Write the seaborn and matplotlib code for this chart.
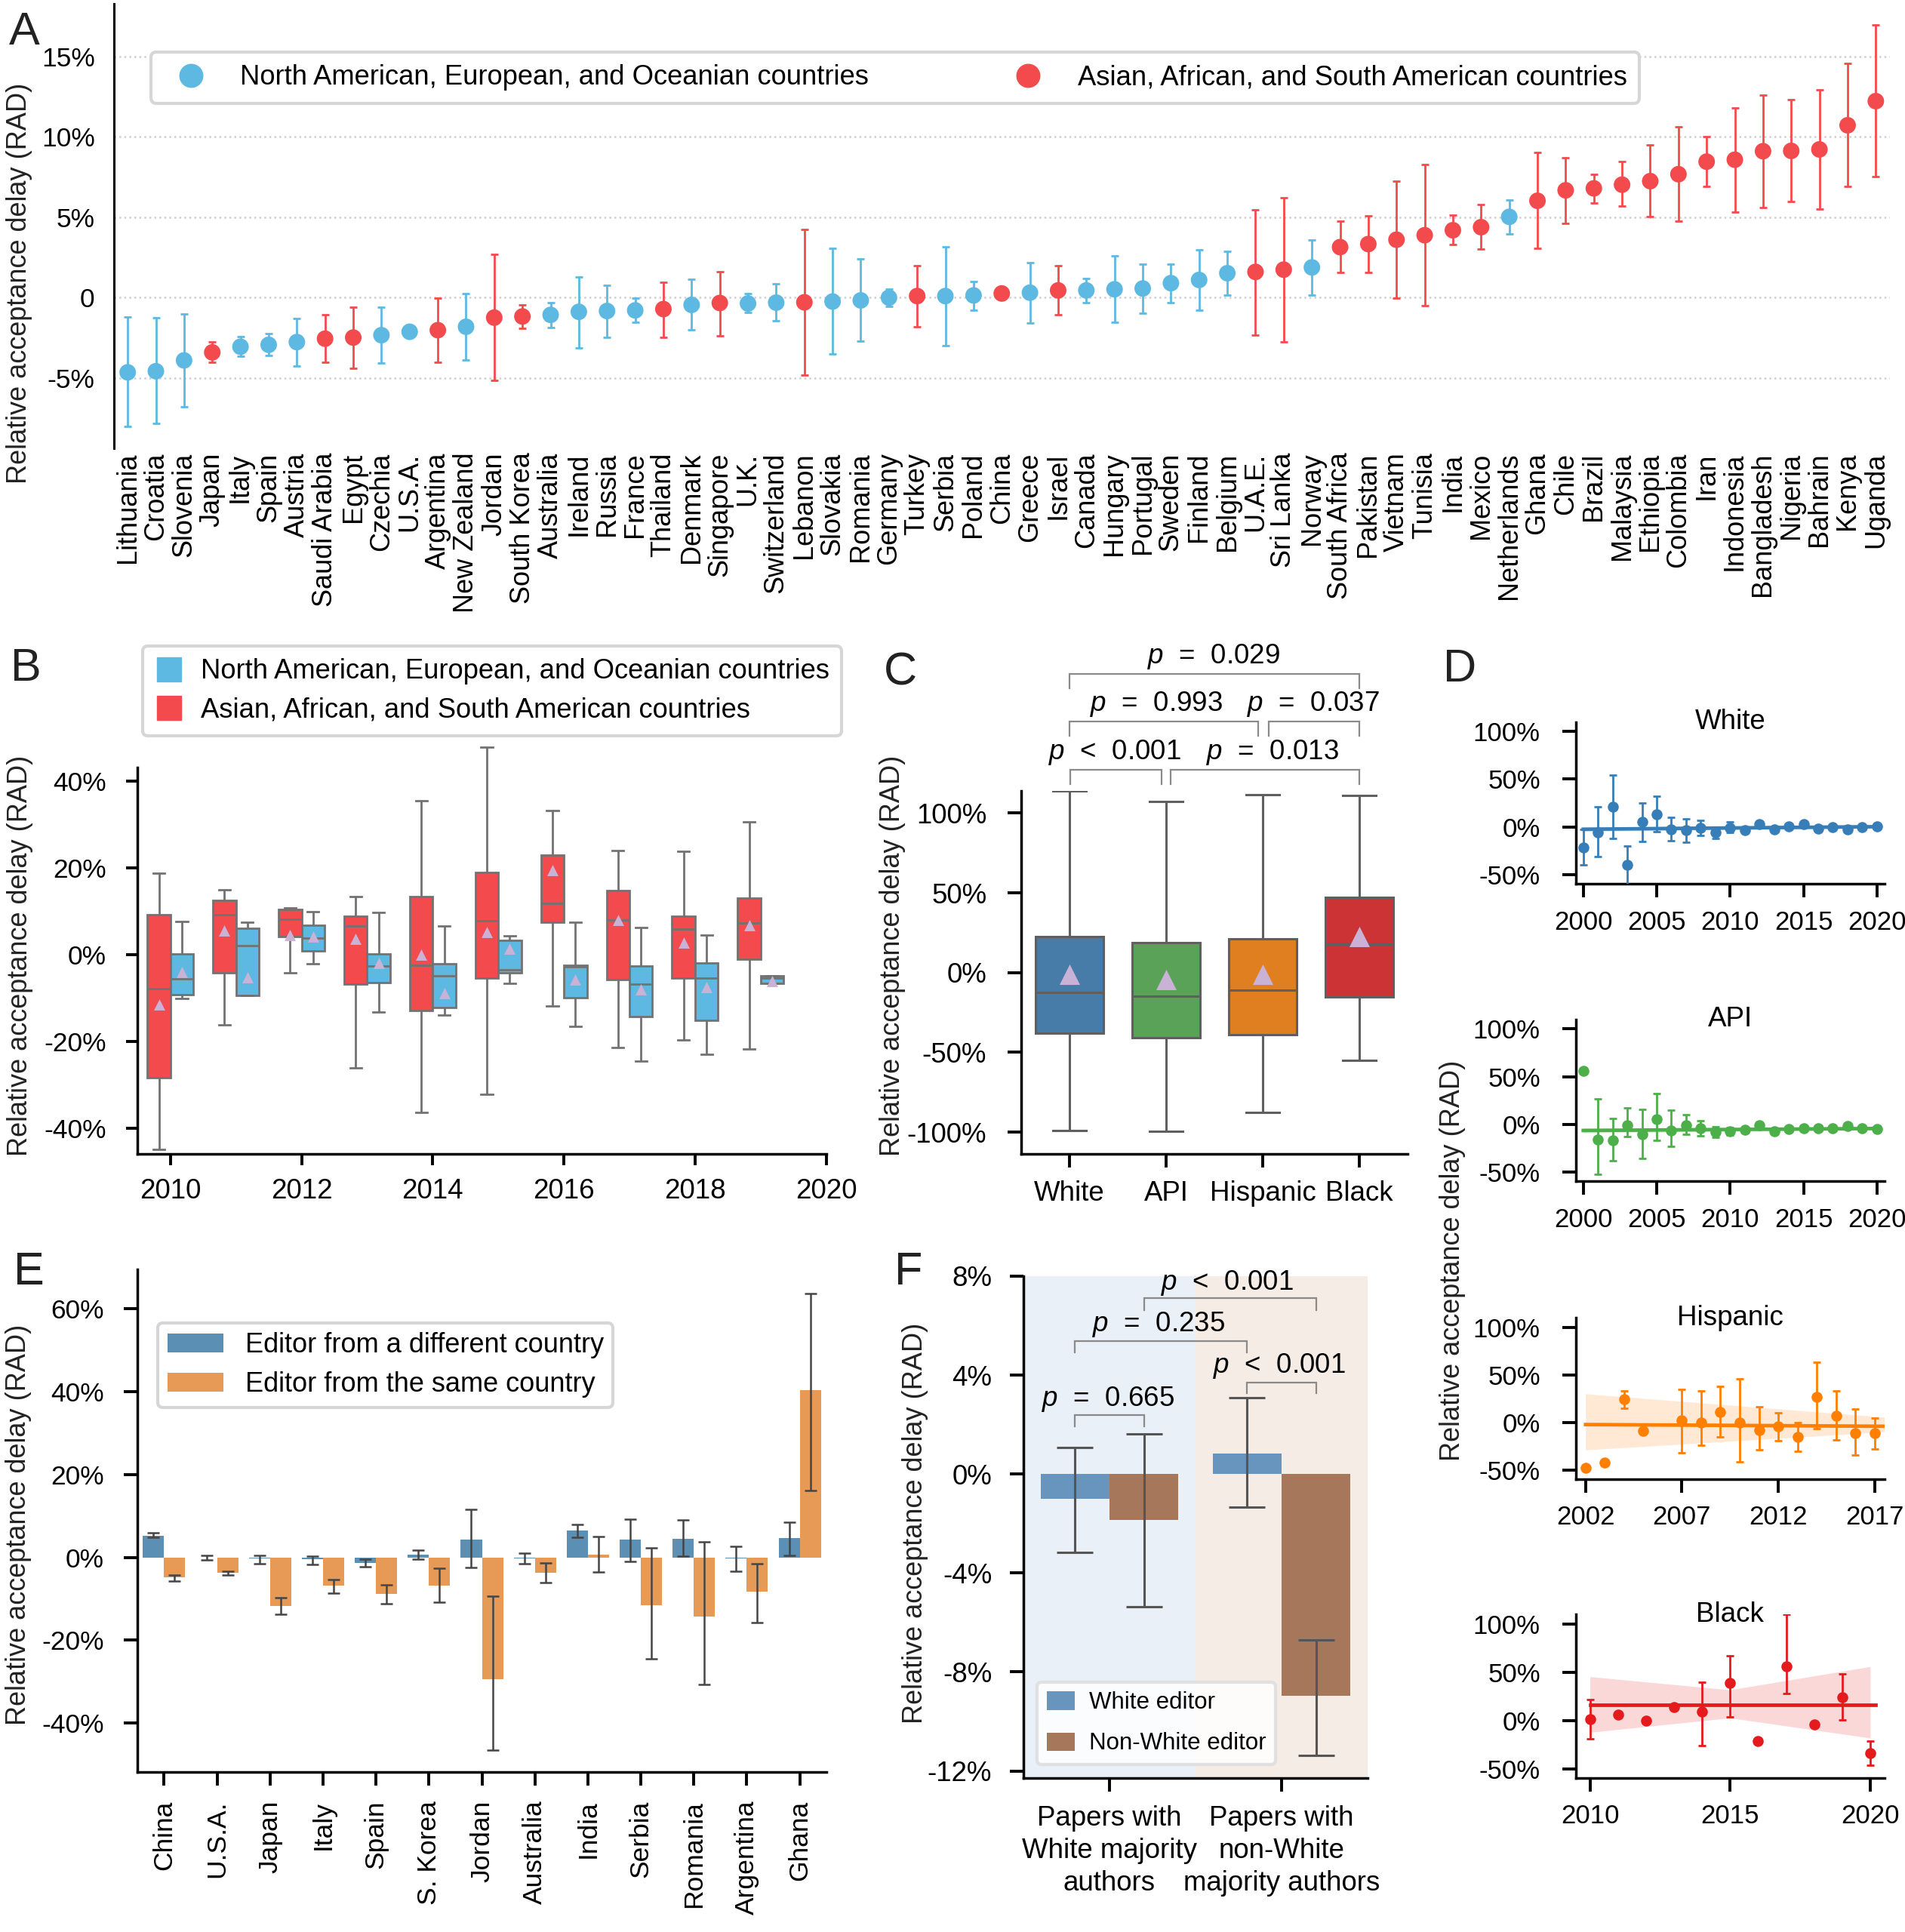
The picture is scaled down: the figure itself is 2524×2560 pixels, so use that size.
import numpy as np
import pandas as pd
import matplotlib
matplotlib.use("Agg")
import matplotlib.pyplot as plt
import seaborn as sns
from matplotlib.lines import Line2D
from matplotlib.patches import Patch

# ============================ DATA ============================
# ---- Panel A: country mean RAD (%) with 95% CI ----
a_countries = ["Lithuania", "Croatia", "Slovenia", "Japan", "Italy", "Spain", "Austria",
               "Saudi Arabia", "Egypt", "Czechia", "U.S.A.", "Argentina", "New Zealand",
               "Jordan", "South Korea", "Australia", "Ireland", "Russia", "France", "Thailand",
               "Denmark", "Singapore", "U.K.", "Switzerland", "Lebanon", "Slovakia", "Romania",
               "Germany", "Turkey", "Serbia", "Poland", "China", "Greece", "Israel", "Canada",
               "Hungary", "Portugal", "Sweden", "Finland", "Belgium", "U.A.E.", "Sri Lanka",
               "Norway", "South Africa", "Pakistan", "Vietnam", "Tunisia", "India", "Mexico",
               "Netherlands", "Ghana", "Chile", "Brazil", "Malaysia", "Ethiopia", "Colombia",
               "Iran", "Indonesia", "Bangladesh", "Nigeria", "Bahrain", "Kenya", "Uganda"]
# B = North American/European/Oceanian, R = Asian/African/South American
a_region = list("BBBRBBBRRB" "BRBRRBBBBR" "BRBBRBBBRB" "BRBRBBBBBB" "RRBRRRRRRB" "RRRRRRRRRRRRR")
a_mean = [-4.64, -4.57, -3.90, -3.40, -3.05, -2.93, -2.76, -2.55, -2.48, -2.33, -2.12, -2.02,
          -1.81, -1.24, -1.17, -1.07, -0.88, -0.83, -0.79, -0.71, -0.45, -0.33, -0.36, -0.31,
          -0.29, -0.24, -0.17, 0.00, 0.10, 0.10, 0.14, 0.26, 0.31, 0.45, 0.45, 0.52, 0.57,
          0.90, 1.10, 1.52, 1.60, 1.74, 1.88, 3.14, 3.33, 3.60, 3.88, 4.19, 4.38, 5.02, 6.02,
          6.67, 6.79, 7.02, 7.24, 7.67, 8.45, 8.57, 9.10, 9.12, 9.21, 10.71, 12.21]
a_low = [-8.00, -7.83, -6.76, -4.02, -3.64, -3.60, -4.24, -4.02, -4.40, -4.05, -2.20, -4.02,
         -3.86, -5.12, -1.90, -1.88, -3.10, -2.45, -1.55, -2.45, -1.98, -2.36, -0.93, -1.45,
         -4.81, -3.52, -2.69, -0.55, -1.81, -2.98, -0.76, 0.20, -1.57, -1.07, -0.31, -1.52,
         -0.95, -0.29, -0.76, 0.14, -2.31, -2.74, 0.17, 1.55, 1.55, -0.05, -0.52, 3.29, 3.00,
         3.98, 3.07, 4.60, 5.88, 5.67, 5.02, 4.74, 6.90, 5.33, 5.62, 5.98, 5.50, 6.90, 7.52]
a_high = [-1.19, -1.24, -1.00, -2.74, -2.43, -2.21, -1.31, -1.05, -0.57, -0.60, -2.04, -0.05,
          0.24, 2.67, -0.45, -0.29, 1.29, 0.76, -0.05, 0.95, 1.14, 1.62, 0.26, 0.86, 4.24,
          3.07, 2.43, 0.55, 1.98, 3.17, 1.02, 0.32, 2.19, 1.98, 1.21, 2.60, 2.07, 2.07, 2.98,
          2.90, 5.48, 6.21, 3.60, 4.74, 5.10, 7.26, 8.29, 5.12, 5.79, 6.07, 9.00, 8.71, 7.67,
          8.45, 9.48, 10.62, 10.02, 11.81, 12.57, 12.29, 12.90, 14.55, 16.93]
a_yticks = [-5, 0, 5, 10, 15]
a_yticklabels = ["-5%", "0", "5%", "10%", "15%"]

# ---- Panel B: yearly box statistics (%) ----
b_years = [2010, 2011, 2012, 2013, 2014, 2015, 2016, 2017, 2018, 2019]
b_s_lo = [-45.0, -16.3, -4.3, -26.1, -36.4, -32.3, -11.8, -21.4, -19.7, -21.8]
b_s_q1 = [-28.4, -4.3, 4.1, -6.9, -12.9, -5.4, 7.5, -5.8, -5.4, -1.1]
b_s_med = [-7.8, 9.1, 8.2, 6.5, -2.5, 7.8, 11.8, 7.9, 5.9, 7.3]
b_s_q3 = [9.2, 12.5, 10.4, 8.9, 13.3, 19.0, 22.9, 14.8, 8.9, 13.1]
b_s_hi = [18.8, 15.0, 10.8, 13.4, 35.5, 47.8, 33.2, 24.0, 23.8, 30.6]
b_s_mean = [-11.6, 5.5, 4.4, 3.6, 0.0, 5.2, 19.4, 8.0, 2.7, 6.8]
b_n_lo = [-10.1, -9.5, -2.1, -13.2, -14.0, -6.7, -16.5, -24.6, -23.1, -6.7]
b_n_q1 = [-9.2, -9.5, 0.8, -6.4, -12.3, -4.2, -10.0, -14.3, -15.1, -6.6]
b_n_med = [-5.6, 2.0, 3.8, -2.7, -5.0, -3.5, -2.9, -6.9, -5.4, -5.4]
b_n_q3 = [0.2, 6.0, 6.8, 0.2, -2.1, 3.3, -2.5, -2.6, -2.0, -4.9]
b_n_hi = [7.6, 7.5, 9.8, 9.7, 6.6, 4.3, 7.5, 6.2, 4.5, -4.9]
b_n_mean = [-4.1, -5.2, 4.1, -1.9, -8.9, 1.4, -5.8, -8.0, -7.6, -6.2]
b_yticks = [-40, -20, 0, 20, 40]
b_yticklabels = ["-40%", "-20%", "0%", "20%", "40%"]

# ---- Panel C: race of first author, box statistics (%) ----
c_groups = ["White", "API", "Hispanic", "Black"]
c_lo = [-98.8, -99.3, -87.9, -55.1]
c_q1 = [-38.2, -40.6, -38.9, -15.5]
c_med = [-12.3, -15.0, -11.1, 17.9]
c_q3 = [22.5, 18.6, 21.3, 47.3]
c_hi = [113.8, 107.2, 111.6, 110.9]
c_mean = [-1.0, -4.6, -1.0, 22.5]
c_yticks = [-100, -50, 0, 50, 100]
c_yticklabels = ["-100%", "-50%", "0%", "50%", "100%"]
c_pvalues = ["< 0.001", "= 0.013", "= 0.993", "= 0.037", "= 0.029"]

# ---- Panel D: yearly means per group (%) ----
d_white_years = list(range(2000, 2021))
d_white_mean = [-22, -5.8, 21.3, -39.6, 5.0, 12.9, -2.5, -3.75, -0.8, -5.8, -1.25, -3.3, 2.5,
                -2.5, 0.4, 2.5, -2.0, 0.0, -3.0, -0.4, 0.4]
d_white_low = [-39.6, -30.8, -12, -62, -15, -5.4, -14.2, -16, -9, -12, -6, -6, -0.5, -5, -2,
               0, -4.5, -2, -5.5, -2.5, -1.5]
d_white_high = [-2.9, 20.8, 54.6, -20, 25.4, 32.5, 9.6, 8.75, 7, -1.7, 5.4, -0.6, 5.5, 0, 2.8,
                5, 0.5, 2, -0.5, 1.7, 2.3]
d_white_fit = [-2.5, 0.2]
d_white_band_lo = [-4.8, -1.3]
d_white_band_hi = [-0.2, 1.7]

d_api_years = list(range(2000, 2021))
d_api_mean = [56.2, -16, -16.3, -0.4, -10, 5.9, -6.3, -0.4, -3.8, -8, -7.1, -5.9, -0.8, -7.1,
              -5, -3.8, -3.8, -3.8, -1.7, -3.8, -5]
d_api_low = [np.nan, -52, -37.7, -12.6, -35.6, -16.7, -22.6, -10, -11.7, -13.4, -11, -9, -3.5,
             -10, -7.5, -6, -6, -6, -4, -6, -7]
d_api_high = [np.nan, 26.8, 6.7, 17.2, 16, 32.7, 14.7, 10.5, 4.2, -2, -3, -3, 2, -4, -2.5,
              -1.5, -1.5, -1.5, 0.5, -1.5, -3]
d_api_fit = [-6.3, -4.2]
d_api_band_lo = [-9.0, -5.6]
d_api_band_hi = [-3.6, -2.8]

d_hisp_years = [2002, 2003, 2004, 2005, 2007, 2008, 2009, 2010, 2011, 2012, 2013, 2014, 2015,
                2016, 2017]
d_hisp_mean = [-48, -42, 24.2, -8.7, 1.8, -0.5, 10.5, 0, -7.8, -4.1, -15, 26.5, 6.8, -11.4, -11.4]
d_hisp_low = [np.nan, np.nan, 15, np.nan, -32, -24, -15.5, -41.5, -28.7, -19.2, -30, -6.4,
              -18.7, -34.7, -27.8]
d_hisp_high = [np.nan, np.nan, 33.3, np.nan, 34.7, 33, 37.9, 45.6, 16.4, 10, 0, 63, 33.3,
               13.7, 4.6]
d_hisp_fit = [-2.3, -4.1]
d_hisp_band_lo = [-29.0, -10.0]
d_hisp_band_hi = [30.0, 5.5]

d_black_years = list(range(2010, 2021))
d_black_mean = [1.4, 5.9, 0, 13.6, 9.1, 39, -21.4, 56.4, -4.1, 24, -33.6]
d_black_low = [-19, np.nan, np.nan, np.nan, -26.4, 3.6, np.nan, 28.2, np.nan, 0.5, -46.4]
d_black_high = [21.8, np.nan, np.nan, np.nan, 40, 67.3, np.nan, 110, np.nan, 48.2, -21.4]
d_black_fit = [15.9, 15.9]
d_black_band_lo = [-12.3, 2.7, -18.2]
d_black_band_hi = [45.5, 31.8, 56.0]
d_yticks = [-50, 0, 50, 100]
d_yticklabels = ["-50%", "0%", "50%", "100%"]

# ---- Panel E: editor country (%) ----
e_countries = ["China", "U.S.A.", "Japan", "Italy", "Spain", "S. Korea", "Jordan", "Australia",
               "India", "Serbia", "Romania", "Argentina", "Ghana"]
e_diff = [5.2, 0.0, -0.3, -0.5, -1.3, 0.6, 4.2, -0.2, 6.4, 4.2, 4.4, -0.3, 4.6]
e_diff_low = [4.8, -0.6, -1.5, -1.8, -2.3, -0.5, -2.5, -1.6, 4.8, -0.9, 0.2, -3.4, 0.5]
e_diff_high = [5.9, 0.5, 0.5, 0.2, -0.4, 1.8, 11.5, 1.0, 8.0, 9.2, 9.1, 2.6, 8.5]
e_same = [-4.9, -3.7, -11.7, -6.9, -8.9, -6.9, -29.3, -3.7, 0.6, -11.6, -14.2, -8.3, 40.3]
e_same_low = [-5.8, -4.3, -13.7, -8.6, -11.1, -10.8, -46.4, -6.0, -3.5, -24.4, -30.6, -15.7, 16.2]
e_same_high = [-4.2, -3.3, -9.7, -5.3, -6.6, -2.7, -9.3, -1.4, 5.1, 2.2, 3.8, -1.6, 63.7]
e_yticks = [-40, -20, 0, 20, 40, 60]
e_yticklabels = ["-40%", "-20%", "0%", "20%", "40%", "60%"]

# ---- Panel F: editor race x author majority (%) ----
f_groups = ["Papers with\nWhite majority\nauthors", "Papers with\nnon-White\nmajority authors"]
f_white_ed = [-1.0, 0.82]
f_white_ed_low = [-3.15, -1.32]
f_white_ed_high = [1.07, 3.10]
f_nonwhite_ed = [-1.86, -8.97]
f_nonwhite_ed_low = [-5.35, -11.37]
f_nonwhite_ed_high = [1.63, -6.70]
f_yticks = [-12, -8, -4, 0, 4, 8]
f_yticklabels = ["-12%", "-8%", "-4%", "0%", "4%", "8%"]
f_pvalues = ["= 0.665", "= 0.235", "< 0.001", "< 0.001"]

# ============================ STYLE ============================
plt.rcParams["font.family"] = ["Liberation Sans", "DejaVu Sans"]
plt.rcParams["mathtext.fontset"] = "custom"
plt.rcParams["mathtext.it"] = "Liberation Sans:italic"
plt.rcParams["mathtext.rm"] = "Liberation Sans"
plt.rcParams["axes.unicode_minus"] = False

BLUE = "#5EB9E2"
RED = "#F34B4D"
LAV = "#CAB2D6"
LAB_N = "North American, European, and Oceanian countries"
LAB_S = "Asian, African, and South American countries"
SET1 = ["#377eb8", "#4daf4a", "#ff7f00", "#e41a1c"]
YLAB = "Relative acceptance delay (RAD)"
FS = 25.5
FS2 = 26.4

W, H = 2524, 2560
fig = plt.figure(figsize=(W / 100, H / 100), dpi=100)


def rect(l, t, r, b):
    return [l / W, 1 - b / H, (r - l) / W, (b - t) / H]


def style(ax, xpad=10, ypad=20, length=13, width=2.8, spine=2.5, fs=FS):
    for s in ["top", "right"]:
        ax.spines[s].set_visible(False)
    for s in ["left", "bottom"]:
        ax.spines[s].set_linewidth(spine)
    ax.tick_params(axis="both", labelsize=fs, length=length, width=width)
    ax.tick_params(axis="x", pad=xpad)
    ax.tick_params(axis="y", pad=ypad)
    ax.set_xlabel("")
    ax.set_ylabel("")


def frame(leg, lw=3, ec="#D6D6D6"):
    fr = leg.get_frame()
    fr.set_edgecolor(ec)
    fr.set_linewidth(lw)


def ylab(xc, yc):
    fig.text(xc / W, 1 - yc / H, YLAB, rotation=90, ha="center", va="center",
             fontsize=26, color="#222222")


def letter(x, ybase, s):
    fig.text(x / W, 1 - ybase / H, s, fontsize=44, ha="left", va="baseline", color="#222222")


def ptext(ax, x, y, rel):
    ax.text(x, y, r"$p$  " + rel.replace(" ", "  "), ha="center", va="baseline",
            fontsize=26.5, clip_on=False)


def bracket(ax, x1, x2, y, leg):
    ax.plot([x1, x1, x2, x2], [leg, y, y, leg], color="#8a8a8a", lw=1.6, clip_on=False,
            solid_joinstyle="miter")

# ============================ PANEL A ============================
axA = fig.add_axes(rect(150.5, 5, 2504, 594))
xa = np.arange(len(a_countries))
am, al, ah = np.array(a_mean), np.array(a_low), np.array(a_high)
grp = np.array(a_region)
for g, col in [("B", BLUE), ("R", RED)]:
    m = grp == g
    axA.errorbar(xa[m], am[m], yerr=[am[m] - al[m], ah[m] - am[m]], fmt="none", ecolor=col,
                 elinewidth=2.0, capsize=3.6, capthick=2.0, zorder=2)
dfa = pd.DataFrame({"x": xa, "rad": am, "region": np.where(grp == "B", LAB_N, LAB_S)})
sns.scatterplot(data=dfa, x="x", y="rad", hue="region", palette={LAB_N: BLUE, LAB_S: RED},
                s=250, linewidth=0, legend=False, ax=axA, zorder=3)
axA.set_xlim(-0.5, len(a_countries) - 0.5)
axA.set_ylim(-9.36, 18.26)
axA.set_yticks(a_yticks)
axA.set_yticklabels(a_yticklabels)
axA.set_xticks(xa)
axA.set_xticklabels(a_countries, rotation=90)
style(axA, xpad=4, ypad=18, length=0)
axA.spines["bottom"].set_visible(False)
axA.spines["left"].set_linewidth(2.2)
axA.tick_params(axis="x", labelsize=26)
axA.yaxis.grid(True, linestyle=":", color="#cfcfcf", linewidth=1.8)
axA.set_axisbelow(True)
hA = [Line2D([], [], ls="none", marker="o", ms=22, mfc=BLUE, mec=BLUE),
      Line2D([], [], ls="none", marker="o", ms=22, mfc=RED, mec=RED)]
legA = axA.legend(hA, [LAB_N, LAB_S], ncol=2, loc="upper left",
                  bbox_to_anchor=((200 - 150.5) / 2353.5, (594 - 69) / 589),
                  fontsize=26.2, frameon=True, fancybox=True, borderpad=0.45,
                  handletextpad=0.8, columnspacing=4.8, borderaxespad=0, framealpha=1)
frame(legA)
ylab(26, 375)
letter(12, 59, "A")

# ============================ PANEL B ============================
axB = fig.add_axes(rect(182.3, 1017.2, 1094.7, 1529))
rows = []
for i, yr in enumerate(b_years):
    for v in (b_s_lo[i], b_s_q1[i], b_s_med[i], b_s_q3[i], b_s_hi[i]):
        rows.append((yr, LAB_S, v))
    for v in (b_n_lo[i], b_n_q1[i], b_n_med[i], b_n_q3[i], b_n_hi[i]):
        rows.append((yr, LAB_N, v))
dfb = pd.DataFrame(rows, columns=["year", "region", "rad"])
sns.boxplot(data=dfb, x="year", y="rad", hue="region", hue_order=[LAB_S, LAB_N],
            palette=[RED, BLUE], native_scale=True, width=0.7, whis=(0, 100), saturation=1,
            linecolor="#727272", linewidth=2.0, showfliers=False, legend=False, ax=axB)
by = np.array(b_years, dtype=float)
axB.scatter(by - 0.175, b_s_mean, marker="^", s=115, color=LAV, linewidths=0, zorder=5)
axB.scatter(by + 0.175, b_n_mean, marker="^", s=115, color=LAV, linewidths=0, zorder=5)
for art in list(axB.lines) + list(axB.patches):
    art.set_clip_on(False)
axB.set_xlim(2009.5, 2020)
axB.set_ylim(-46, 43.1)
axB.set_xticks(range(2010, 2021, 2))
axB.set_xticklabels([str(y) for y in range(2010, 2021, 2)])
axB.set_yticks(b_yticks)
axB.set_yticklabels(b_yticklabels)
style(axB, xpad=12, ypad=19, length=11)
axB.tick_params(axis="x", labelsize=26.5)
hB = [Line2D([], [], ls="none", marker="s", ms=23, mfc=BLUE, mec=BLUE),
      Line2D([], [], ls="none", marker="s", ms=23, mfc=RED, mec=RED)]
legB = axB.legend(hB, [LAB_N, LAB_S], loc="upper left", bbox_to_anchor=(0.0073, 1.315),
                  fontsize=26.2, frameon=True, fancybox=True, borderpad=0.45, handlelength=1.0,
                  handletextpad=0.66, labelspacing=0.45, borderaxespad=0, framealpha=1)
frame(legB)
ylab(27, 1266)
letter(14, 902, "B")

# ============================ PANEL C ============================
axC = fig.add_axes(rect(1353, 1048.4, 1865, 1529))
rows = []
for i, g in enumerate(c_groups):
    for v in (c_lo[i], c_q1[i], c_med[i], c_q3[i], c_hi[i]):
        rows.append((g, v))
dfc = pd.DataFrame(rows, columns=["group", "rad"])
sns.boxplot(data=dfc, x="group", y="rad", hue="group", order=c_groups, hue_order=c_groups,
            palette=SET1, width=0.7, whis=(0, 100), linecolor="#5f5f5f", linewidth=2.2,
            showfliers=False, legend=False, ax=axC)
axC.scatter(np.arange(len(c_groups)), c_mean, marker="^", s=380, color=LAV, linewidths=0,
            zorder=5)
axC.set_xlim(-0.5, 3.5)
axC.set_ylim(-113.7, 113.7)
axC.set_yticks(c_yticks)
axC.set_yticklabels(c_yticklabels)
style(axC, xpad=12, ypad=20, fs=FS2)
# significance brackets
bracket(axC, 0.01, 0.95, 127.3, 118.1)
bracket(axC, 1.05, 3.0, 127.3, 118.1)
bracket(axC, 0.0, 1.95, 157.5, 148.6)
bracket(axC, 2.06, 3.0, 157.5, 148.6)
bracket(axC, 0.0, 3.0, 187.3, 178.1)
ptext(axC, 0.47, 133.8, c_pvalues[0])
ptext(axC, 2.10, 133.8, c_pvalues[1])
ptext(axC, 0.90, 164.0, c_pvalues[2])
ptext(axC, 2.52, 164.0, c_pvalues[3])
ptext(axC, 1.49, 193.7, c_pvalues[4])
ylab(1183, 1266)
letter(1171, 907, "C")

# ============================ PANEL D ============================
d_panels = [
    ("White", SET1[0], d_white_years, d_white_mean, d_white_low, d_white_high,
     [2000, 2020], d_white_fit, [2000, 2020], d_white_band_lo, d_white_band_hi,
     (956.5, 1170.9), (1999.5, 2020.5), [2000, 2005, 2010, 2015, 2020]),
    ("API", SET1[1], d_api_years, d_api_mean, d_api_low, d_api_high,
     [2000, 2020], d_api_fit, [2000, 2020], d_api_band_lo, d_api_band_hi,
     (1350.8, 1565.3), (1999.5, 2020.5), [2000, 2005, 2010, 2015, 2020]),
    ("Hispanic", SET1[2], d_hisp_years, d_hisp_mean, d_hisp_low, d_hisp_high,
     [2002, 2017.5], d_hisp_fit, [2002, 2017.5], d_hisp_band_lo, d_hisp_band_hi,
     (1746.1, 1959.7), (2001.5, 2017.5), [2002, 2007, 2012, 2017]),
    ("Black", SET1[3], d_black_years, d_black_mean, d_black_low, d_black_high,
     [2010, 2020.2], d_black_fit, [2010, 2015, 2020], d_black_band_lo, d_black_band_hi,
     (2139.3, 2355.7), (2009.5, 2020.5), [2010, 2015, 2020]),
]
for (name, col, yrs, mn, lo, hi, fx, fy, bx, blo, bhi, (top, bot), xl, xt) in d_panels:
    ax = fig.add_axes(rect(2088, top, 2496.5, bot))
    yrs = np.array(yrs, dtype=float)
    mn, lo, hi = np.array(mn), np.array(lo), np.array(hi)
    ax.fill_between(bx, blo, bhi, color=col, alpha=0.17, linewidth=0, zorder=1)
    sns.lineplot(x=fx, y=fy, color=col, linewidth=3.4, ax=ax, zorder=2)
    ok = ~np.isnan(lo)
    ax.errorbar(yrs[ok], mn[ok], yerr=[mn[ok] - lo[ok], hi[ok] - mn[ok]], fmt="none",
                ecolor=col, elinewidth=2.0, capsize=3.5, capthick=2.0, zorder=3)
    sns.scatterplot(x=yrs, y=mn, color=col, s=110, linewidth=0, ax=ax, zorder=4)
    ax.set_xlim(*xl)
    ax.set_ylim(-59.5, 110)
    ax.set_xticks(xt)
    ax.set_xticklabels([str(v) for v in xt])
    ax.set_yticks(d_yticks)
    ax.set_yticklabels(d_yticklabels)
    style(ax, xpad=12, ypad=21, fs=25.0)
    ax.text(0.5, 1.0, name, transform=ax.transAxes, ha="center", va="center", fontsize=26.5)
ylab(1924, 1670)
letter(1912, 903, "D")

# ============================ PANEL E ============================
axE = fig.add_axes(rect(182.3, 1682.2, 1094.7, 2348.2))
E_DIFF = "Editor from a different country"
E_SAME = "Editor from the same country"
dfe = pd.DataFrame({"country": e_countries * 2,
                    "editor": [E_DIFF] * len(e_countries) + [E_SAME] * len(e_countries),
                    "rad": e_diff + e_same})
E_COLS = ["#1f77b4", "#ff7f0e"]
sns.barplot(data=dfe, x="country", y="rad", hue="editor", order=e_countries,
            hue_order=[E_DIFF, E_SAME], palette=E_COLS, errorbar=None, alpha=0.8,
            legend=False, ax=axE)
xe = np.arange(len(e_countries))
for off, v, lo, hi in [(-0.2, e_diff, e_diff_low, e_diff_high),
                       (0.2, e_same, e_same_low, e_same_high)]:
    v, lo, hi = np.array(v), np.array(lo), np.array(hi)
    axE.errorbar(xe + off, v, yerr=[v - lo, hi - v], fmt="none", ecolor="#454545",
                 elinewidth=1.8, capsize=6, capthick=1.8, zorder=4)
axE.set_xlim(-0.5, len(e_countries) - 0.5)
axE.set_ylim(-51.8, 69.4)
axE.set_yticks(e_yticks)
axE.set_yticklabels(e_yticklabels)
style(axE, xpad=14, ypad=19)
axE.tick_params(axis="x", labelrotation=90)
hE = [Patch(facecolor=sns.desaturate(c, 0.75), alpha=0.8, edgecolor="none") for c in E_COLS]
legE = axE.legend(hE, [E_DIFF, E_SAME], loc="upper left",
                  bbox_to_anchor=((209 - 182.3) / 912.4, (2348.2 - 1752.7) / 666),
                  fontsize=26, frameon=True, fancybox=True, borderpad=0.35, handlelength=2.05,
                  handleheight=0.7, handletextpad=0.8, labelspacing=0.47, borderaxespad=0,
                  framealpha=1)
frame(legE)
ylab(25, 2020)
letter(18, 1702, "E")

# ============================ PANEL F ============================
axF = fig.add_axes(rect(1355.8, 1691, 1812.1, 2355.8))
F_W = "White editor"
F_NW = "Non-White editor"
dff = pd.DataFrame({"grp": f_groups * 2,
                    "editor": [F_W] * 2 + [F_NW] * 2,
                    "rad": f_white_ed + f_nonwhite_ed})
F_COLS = ["#6895BD", "#A6775B"]
sns.barplot(data=dff, x="grp", y="rad", hue="editor", order=f_groups, hue_order=[F_W, F_NW],
            palette=F_COLS, saturation=1, errorbar=None, legend=False, ax=axF, zorder=2)
axF.axvspan(-0.5, 0.5, color="#E9F0F7", linewidth=0, zorder=0)
axF.axvspan(0.5, 1.5, color="#F5ECE6", linewidth=0, zorder=0)
xf = np.arange(len(f_groups))
for off, v, lo, hi in [(-0.2, f_white_ed, f_white_ed_low, f_white_ed_high),
                       (0.2, f_nonwhite_ed, f_nonwhite_ed_low, f_nonwhite_ed_high)]:
    v, lo, hi = np.array(v), np.array(lo), np.array(hi)
    axF.errorbar(xf + off, v, yerr=[v - lo, hi - v], fmt="none", ecolor="#555555",
                 elinewidth=2.2, capsize=17, capthick=2.2, zorder=4)
axF.set_xlim(-0.5, 1.5)
axF.set_ylim(-12.28, 8.0)
axF.set_yticks(f_yticks)
axF.set_yticklabels(f_yticklabels)
style(axF, xpad=13, ypad=17, fs=FS2)
for lab in axF.get_xticklabels():
    lab.set_linespacing(1.3)
bracket(axF, -0.2, 0.2, 2.40, 1.93)
bracket(axF, -0.2, 0.8, 5.39, 4.91)
bracket(axF, 0.2, 1.2, 7.11, 6.64)
bracket(axF, 0.8, 1.2, 3.71, 3.26)
ptext(axF, -0.01, 2.76, f_pvalues[0])
ptext(axF, 0.284, 5.77, f_pvalues[1])
ptext(axF, 0.685, 7.45, f_pvalues[2])
ptext(axF, 0.988, 4.10, f_pvalues[3])
hF = [Patch(facecolor=c, edgecolor="none") for c in F_COLS]
legF = axF.legend(hF, [F_W, F_NW], loc="lower left",
                  bbox_to_anchor=((1374 - 1355.8) / 456.3, (2355.8 - 2338) / 664.8),
                  fontsize=22.5, frameon=True, fancybox=True, borderpad=0.4, handlelength=1.2,
                  handleheight=0.82, handletextpad=0.6, labelspacing=0.77, borderaxespad=0,
                  framealpha=0.85, facecolor="white")
frame(legF, ec="#DDDDDD")
ylab(1213, 2018)
letter(1185, 1702, "F")

fig.savefig("out.png", dpi=100)
